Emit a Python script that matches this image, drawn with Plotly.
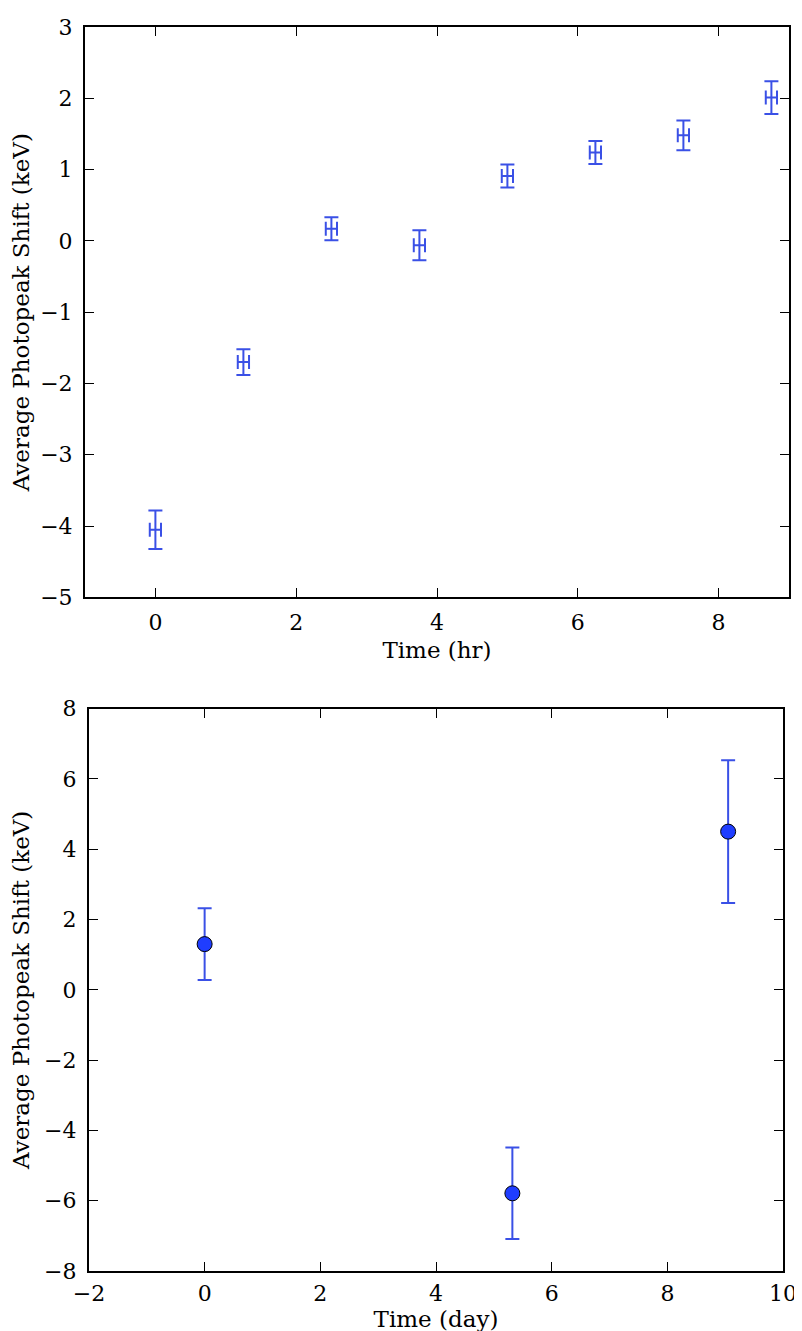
import plotly.graph_objects as go

# Top panel: time in hours
hr_time = [0, 1.25, 2.5, 3.75, 5.0, 6.25, 7.5, 8.75]
hr_shift = [-4.05, -1.70, 0.17, -0.06, 0.91, 1.24, 1.48, 2.01]
hr_shift_err = [0.27, 0.18, 0.16, 0.21, 0.16, 0.16, 0.21, 0.23]
hr_time_err = [0.08] * 8

# Bottom panel: time in days
day_time = [0.0, 5.32, 9.05]
day_shift = [1.30, -5.79, 4.50]
day_shift_err = [1.02, 1.30, 2.03]

ERR_COLOR = "#3a50e6"
FONT = "DejaVu Serif"

fig = go.Figure()

fig.add_trace(go.Scatter(
    x=hr_time, y=hr_shift, mode="markers",
    marker=dict(size=1, color="rgba(0,0,0,0)"),
    error_y=dict(type="data", array=hr_shift_err, color=ERR_COLOR, thickness=2, width=7),
    error_x=dict(type="data", array=hr_time_err, color=ERR_COLOR, thickness=2, width=7),
    xaxis="x", yaxis="y", showlegend=False,
))

fig.add_trace(go.Scatter(
    x=day_time, y=day_shift, mode="markers",
    marker=dict(size=15, color="#1f3dff", line=dict(color="#000000", width=1)),
    error_y=dict(type="data", array=day_shift_err, color=ERR_COLOR, thickness=2, width=7),
    xaxis="x2", yaxis="y2", showlegend=False,
))

axis_common = dict(
    showline=True, linecolor="black", linewidth=2, mirror="ticks",
    ticks="inside", ticklen=9, tickwidth=1.2, tickcolor="black",
    showgrid=False, zeroline=False,
    tickfont=dict(family=FONT, size=22, color="black"),
)

title_font = dict(family=FONT, size=23, color="black")

fig.update_layout(
    width=802, height=1331,
    margin=dict(l=77, r=7, t=11, b=68),
    plot_bgcolor="white", paper_bgcolor="white",
    xaxis=dict(**axis_common, domain=[0, 1], range=[-1, 9], tickvals=[0, 2, 4, 6, 8],
               ticklabelstandoff=4,
               anchor="y", title=dict(text="Time (hr)", font=title_font, standoff=8)),
    yaxis=dict(**axis_common, domain=[0.5415, 1], range=[-5, 3], dtick=1,
               ticklabelstandoff=6,
               anchor="x", title=dict(text="Average Photopeak Shift (keV)", font=title_font, standoff=8)),
    xaxis2=dict(**axis_common, domain=[0.0056, 0.9916], range=[-2, 10], dtick=2,
                ticklabelstandoff=2,
                anchor="y2", title=dict(text="Time (day)", font=title_font, standoff=2)),
    yaxis2=dict(**axis_common, domain=[0, 0.4521], range=[-8, 8], dtick=2,
                ticklabelstandoff=6,
                anchor="x2", title=dict(text="Average Photopeak Shift (keV)", font=title_font, standoff=8)),
)

fig.write_html("out.html")
